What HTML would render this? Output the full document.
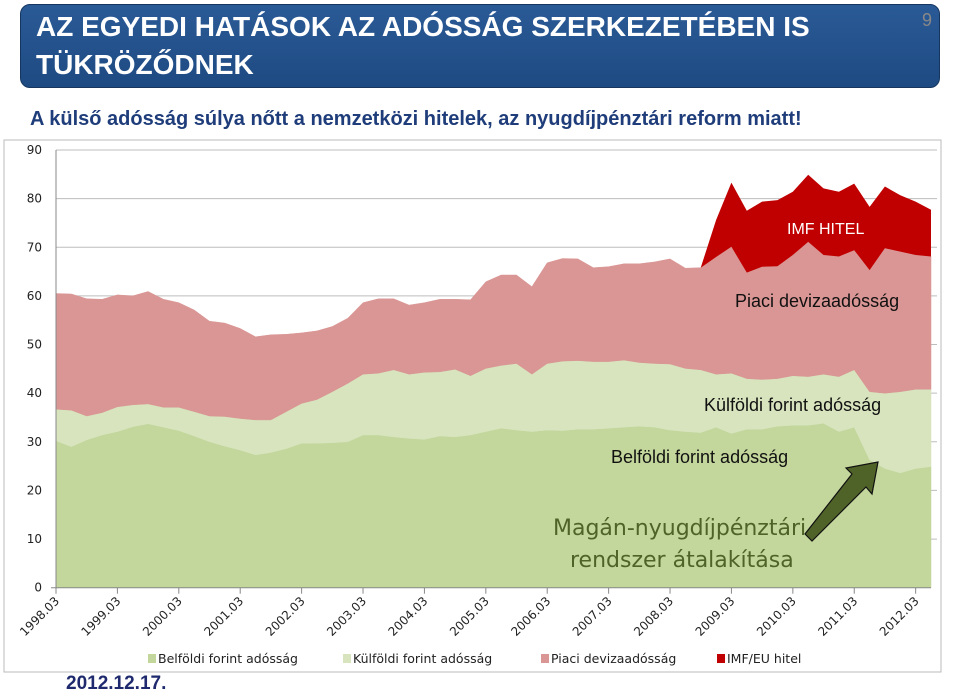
<!DOCTYPE html>
<html><head><meta charset="utf-8"><style>
body{margin:0;width:960px;height:695px;background:#fff;position:relative;overflow:hidden;font-family:"Liberation Sans",sans-serif}
.abs{position:absolute}
</style></head><body>
<div class="abs" style="left:20px;top:4px;width:918px;height:82px;border-radius:10px;background:linear-gradient(#2a5a96,#1e4a82);border:1px solid #16365f;"></div>
<div class="abs" style="left:36px;top:8px;color:#fff;font-weight:bold;font-size:28px;line-height:38px;">AZ EGYEDI HATÁSOK AZ ADÓSSÁG SZERKEZETÉBEN IS<br>TÜKRÖZŐDNEK</div>
<div class="abs" style="left:922px;top:10px;color:#888;font-size:18px;">9</div>
<div class="abs" style="left:30px;top:108px;color:#1f3d7a;font-weight:bold;font-size:20px;">A külső adósság súlya nőtt a nemzetközi hitelek, az nyugdíjpénztári reform miatt!</div>
<div class="abs" style="left:66px;top:673px;color:#1f2a6e;font-weight:bold;font-size:19px;">2012.12.17.</div>
<svg class="abs" style="left:0;top:0" width="960" height="695">
<rect x="4" y="140" width="937" height="532" fill="none" stroke="#bbb"/>
<g id="grid"></g><g id="areas"></g><g id="axes"></g><g id="ann"></g><g id="legend"></g>
</svg>
<script>
const yTicks=[0,10,20,30,40,50,60,70,80,90];
const xTickLabels=["1998.03","1999.03","2000.03","2001.03","2002.03","2003.03","2004.03","2005.03","2006.03","2007.03","2008.03","2009.03","2010.03","2011.03","2012.03"];
const belfoldi=[30.2,29,30.4,31.4,32.1,33.1,33.7,33,32.3,31.2,30,29.1,28.3,27.3,27.8,28.6,29.7,29.7,29.8,30,31.4,31.4,31,30.7,30.5,31.2,31,31.4,32.1,32.8,32.4,32.1,32.4,32.3,32.6,32.6,32.8,33,33.2,33,32.4,32.1,31.9,33,31.7,32.6,32.6,33.2,33.4,33.4,33.8,32.1,33,26.3,24.5,23.6,24.5,24.9];
const kulfoldi=[6.5,7.5,4.9,4.6,5.1,4.5,4.1,4.1,4.8,5.0,5.3,6.1,6.5,7.2,6.7,7.6,8.2,9.0,10.5,12,12.5,12.7,13.8,13.2,13.8,13.2,13.9,12.2,13,12.9,13.7,11.8,13.7,14.3,14.1,13.9,13.7,13.8,13.1,13.1,13.6,13,12.9,10.9,12.4,10.4,10.2,9.8,10.2,10,10.1,11.3,11.8,14,15.5,16.7,16.3,15.9];
const piaci=[23.8,23.9,24.1,23.3,23,22.4,23.1,22.2,21.5,20.9,19.5,19.2,18.5,17.1,17.5,15.9,14.5,14.1,13.4,13.4,14.7,15.3,14.6,14.2,14.3,14.9,14.4,15.6,17.8,18.6,18.2,18,20.7,21.1,20.9,19.3,19.5,19.8,20.3,20.9,21.6,20.6,21,24.1,26,21.8,23.2,23.1,24.8,27.7,24.5,24.7,24.6,25,29.8,28.8,27.6,27.3];
const imf=[0,0,0,0,0,0,0,0,0,0,0,0,0,0,0,0,0,0,0,0,0,0,0,0,0,0,0,0,0,0,0,0,0,0,0,0,0,0,0,0,0,0,0,7.6,13.2,12.7,13.4,13.6,13,13.8,13.7,13.3,13.7,13,12.7,11.6,11,9.6];
const seriesNames=["Belföldi forint adósság","Külföldi forint adósság","Piaci devizaadósság","IMF/EU hitel"];
const NS="http://www.w3.org/2000/svg";
const X0=56,X1=931,Y0=587.7,Y1=150;
const n=belfoldi.length;
const x=i=>X0+(X1-X0)*i/(n-1);
const y=v=>Y0-(Y0-Y1)*v/90;
function mk(t,a,p){const e=document.createElementNS(NS,t);for(const k in a)e.setAttribute(k,a[k]);(p||document.getElementById('areas')).appendChild(e);return e;}
const grid=document.getElementById('grid'),axes=document.getElementById('axes');
yTicks.forEach(v=>{
 if(v>0){const l=mk('line',{x1:X0,x2:X1+6,y1:y(v),y2:y(v),stroke:'#bdbdbd','stroke-width':1},grid);
 
 }
 const t=mk('text',{x:42,y:y(v)+4,'text-anchor':'end','font-size':12,'font-family':'DejaVu Sans, sans-serif',fill:'#222'},axes);
 t.textContent=v;
 
 
});
const cols=['#c3d69b','#d7e4bd','#d99694','#c00000'];
const data=[belfoldi,kulfoldi,piaci,imf];
let base=new Array(n).fill(0);
data.forEach((s,si)=>{
 const top=base.map((b,i)=>b+s[i]);
 let d='';
 for(let i=0;i<n;i++)d+=(i?'L':'M')+x(i).toFixed(1)+','+y(top[i]).toFixed(1);
 for(let i=n-1;i>=0;i--)d+='L'+x(i).toFixed(1)+','+y(base[i]).toFixed(1);
 const p=mk('path',{d:d+'Z',fill:cols[si],stroke:si===3?'none':cols[si],'stroke-width':0.5});
 
 
 base=top;
});
mk('line',{x1:X0,x2:X0,y1:Y1,y2:Y0,stroke:'#888'},axes);
mk('line',{x1:X0-5,x2:X1,y1:Y0,y2:Y0,stroke:'#888'},axes);
xTickLabels.forEach((lb,j)=>{
 const xx=x(j*4);
 mk('line',{x1:xx,x2:xx,y1:Y0,y2:Y0+6,stroke:'#888'},axes);
 const t=mk('text',{x:xx+4,y:Y0+14,'text-anchor':'end','font-size':12,'font-family':'DejaVu Sans, sans-serif',fill:'#222',transform:`rotate(-45 ${xx+4} ${Y0+14})`},axes);
 t.textContent=lb;
 
 
});
const ann=document.getElementById('ann');
[["IMF HITEL",787,234,16,'#fff','Liberation Sans'],["Piaci devizaadósság",735,307,18,'#111','Liberation Sans'],["Külföldi forint adósság",704,411,18,'#111','Liberation Sans'],["Belföldi forint adósság",611,463,18,'#111','Liberation Sans'],["Magán-nyugdíjpénztári",553,535,22,'#4f6228','DejaVu Sans'],["rendszer átalakítása",570,567,22,'#4f6228','DejaVu Sans']].forEach(a=>{
 const t=mk('text',{x:a[1],y:a[2],'font-size':a[3],fill:a[4],'font-family':a[5]+', sans-serif'},ann);
 t.textContent=a[0];
 
 
});
const ar=mk('polygon',{points:'805,534 812,541 866,487 872,494 878,462 846,468 852,474',fill:'#4f6228',stroke:'#111','stroke-width':1.2},ann);


const lg=document.getElementById('legend');
const lx=[148,343,541,717];
seriesNames.forEach((s,i)=>{
 const r=mk('rect',{x:lx[i],y:654,width:8,height:9,fill:cols[i]},lg);
 
 
 const t=mk('text',{x:lx[i]+10,y:663,'font-size':12.5,'font-family':'DejaVu Sans, sans-serif',fill:'#222'},lg);
 t.textContent=s;
 
 
});
</script>
</body></html>
